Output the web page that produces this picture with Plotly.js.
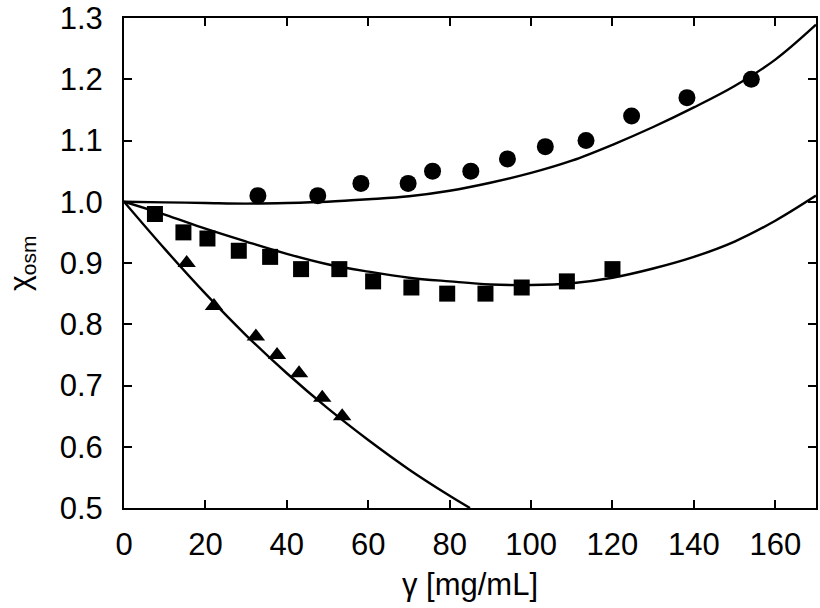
<!DOCTYPE html>
<html>
<head>
<meta charset="utf-8">
<script src="https://cdn.plot.ly/plotly-3.0.1.min.js"></script>
<style>html,body{margin:0;padding:0;background:#fff;}#chart{width:820px;height:608px;}</style>
</head>
<body>
<div id="chart"></div>
<script>
// Data points
const circleX = [32.9, 47.6, 58.2, 69.8, 75.8, 85.2, 94.2, 103.5, 113.5, 124.7, 138.3, 154.1];
const circleY = [1.01, 1.01, 1.03, 1.03, 1.05, 1.05, 1.07, 1.09, 1.10, 1.14, 1.17, 1.20];

const squareX = [7.6, 14.6, 20.5, 28.2, 35.9, 43.5, 52.9, 61.2, 70.6, 79.4, 88.8, 97.7, 108.8, 120.0];
const squareY = [0.98, 0.95, 0.94, 0.92, 0.91, 0.89, 0.89, 0.87, 0.86, 0.85, 0.85, 0.86, 0.87, 0.89];

const triangleX = [15.4, 22.1, 32.4, 37.6, 43.0, 48.7, 53.6];
const triangleY = [0.90, 0.83, 0.78, 0.75, 0.72, 0.68, 0.65];

// Fitted curves
const upperCurveX = [0, 10, 20, 30, 40, 50, 60, 70, 80, 90, 100, 110, 120, 130, 140, 150, 160, 170];
const upperCurveY = [1.000, 0.999, 0.998, 0.997, 0.998, 1.000, 1.004, 1.009, 1.018, 1.031, 1.047, 1.067, 1.093, 1.122, 1.154, 1.189, 1.232, 1.289];

const middleCurveX = [0, 10, 20, 30, 40, 50, 60, 70, 80, 90, 100, 110, 120, 130, 140, 150, 160, 170];
const middleCurveY = [1.000, 0.979, 0.956, 0.935, 0.915, 0.898, 0.886, 0.876, 0.870, 0.865, 0.864, 0.867, 0.876, 0.891, 0.910, 0.935, 0.969, 1.010];

const lowerCurveX = [0, 10, 20, 30, 40, 50, 60, 70, 80, 85];
const lowerCurveY = [1.000, 0.923, 0.850, 0.782, 0.720, 0.663, 0.611, 0.563, 0.520, 0.500];

const xTicks = [0, 20, 40, 60, 80, 100, 120, 140, 160];
const yTicks = [0.5, 0.6, 0.7, 0.8, 0.9, 1.0, 1.1, 1.2, 1.3];
const yTickText = ['0.5', '0.6', '0.7', '0.8', '0.9', '1.0', '1.1', '1.2', '1.3'];

const xTitle = 'γ [mg/mL]';
const yTitle = 'χ<sub>osm</sub>';

const lineStyle = {color: '#000', width: 2.4, shape: 'spline', smoothing: 1};

const traces = [
  {x: upperCurveX, y: upperCurveY, mode: 'lines', line: lineStyle, hoverinfo: 'skip'},
  {x: middleCurveX, y: middleCurveY, mode: 'lines', line: lineStyle, hoverinfo: 'skip'},
  {x: lowerCurveX, y: lowerCurveY, mode: 'lines', line: lineStyle, hoverinfo: 'skip'},
  {x: circleX, y: circleY, mode: 'markers', marker: {symbol: 'circle', size: 17, color: '#000'}},
  {x: squareX, y: squareY, mode: 'markers', marker: {symbol: 'square', size: 16, color: '#000'}},
  {x: triangleX, y: triangleY, mode: 'markers', marker: {symbol: 'triangle-up', size: 16, color: '#000'}}
];

const fontFam = 'Liberation Sans, Arial, Helvetica, sans-serif';
const fontSize = 31;

const axisCommon = {
  showline: true, linecolor: '#000', linewidth: 2, mirror: 'ticks',
  ticks: 'inside', ticklen: 8, tickwidth: 2, tickcolor: '#000',
  showgrid: false, zeroline: false,
  ticklabeloverflow: 'allow',
  tickfont: {family: fontFam, size: fontSize, color: '#000'}
};

const layout = {
  width: 820, height: 608,
  margin: {l: 124, r: 4, t: 18, b: 100},
  paper_bgcolor: '#fff', plot_bgcolor: '#fff',
  showlegend: false,
  xaxis: Object.assign({}, axisCommon, {
    range: [0, 170], tickmode: 'array', tickvals: xTicks,
    ticklabelstandoff: 8,
    title: {text: xTitle, font: {family: fontFam, size: fontSize, color: '#000'}, standoff: 12}
  }),
  yaxis: Object.assign({}, axisCommon, {
    range: [0.5, 1.3], tickmode: 'array', tickvals: yTicks, ticktext: yTickText,
    ticklabelstandoff: 13
  }),
  annotations: [{
    text: yTitle, xref: 'paper', yref: 'paper', x: -0.149, y: 0.5,
    xanchor: 'center', yanchor: 'middle', textangle: -90, showarrow: false,
    borderpad: 0,
    font: {family: fontFam, size: 30, color: '#000'}
  }]
};

Plotly.newPlot('chart', traces, layout, {displayModeBar: false, staticPlot: true});
</script>
</body>
</html>
